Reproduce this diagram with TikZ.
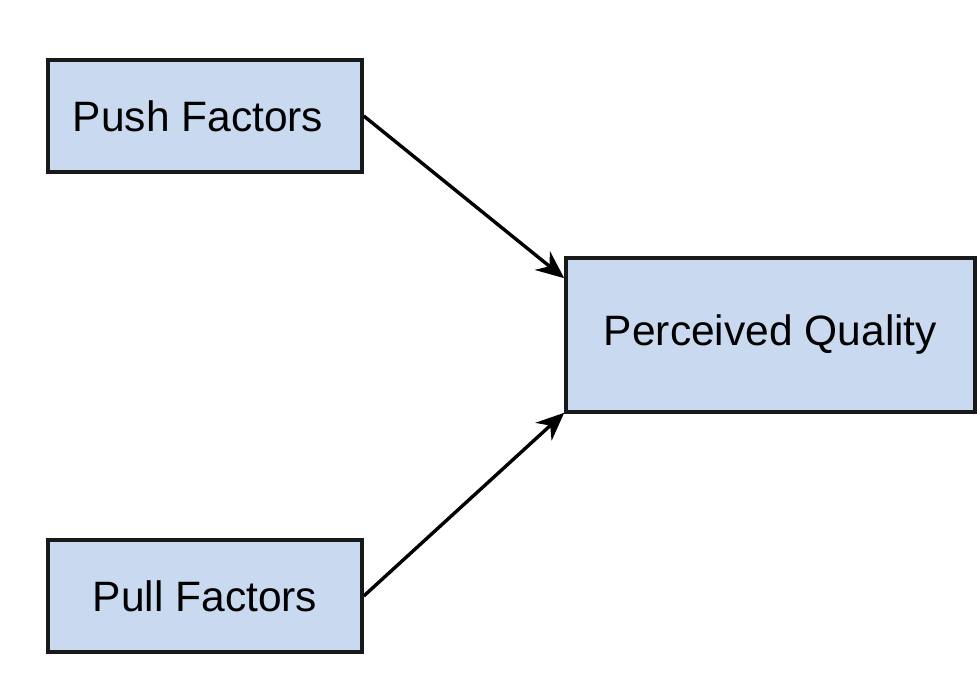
\documentclass[tikz,border=0pt]{standalone}
\usepackage{fontspec}
\setmainfont{Liberation Sans}
\usetikzlibrary{arrows.meta}
\definecolor{boxfill}{HTML}{C9DAF0}
\begin{document}
\begin{tikzpicture}[x=1pt,y=1pt,
  factorbox/.style={draw=black!90, line width=3.6pt, fill=boxfill, minimum width=314pt, minimum height=112pt, inner sep=0pt, font=\fontsize{42.5}{50}\selectfont},
  arr/.style={line width=3.4pt, -{Stealth[length=28pt,width=24pt]}}]
\useasboundingbox (0,0) rectangle (977,677);
\fill[white] (0,0) rectangle (977,677);
\node[factorbox] (push) at (205,561) {Push Factors\hspace*{14pt}};
\node[factorbox] (pull) at (205,81) {Pull Factors};
\node[factorbox, minimum width=409pt, minimum height=154pt] (pq) at (770.5,342) {Perceived Quality};
\draw[arr] (push.east) -- ([yshift=-22pt]pq.north west);
\draw[arr] (pull.east) -- ([yshift=1pt]pq.south west);
\end{tikzpicture}
\end{document}
